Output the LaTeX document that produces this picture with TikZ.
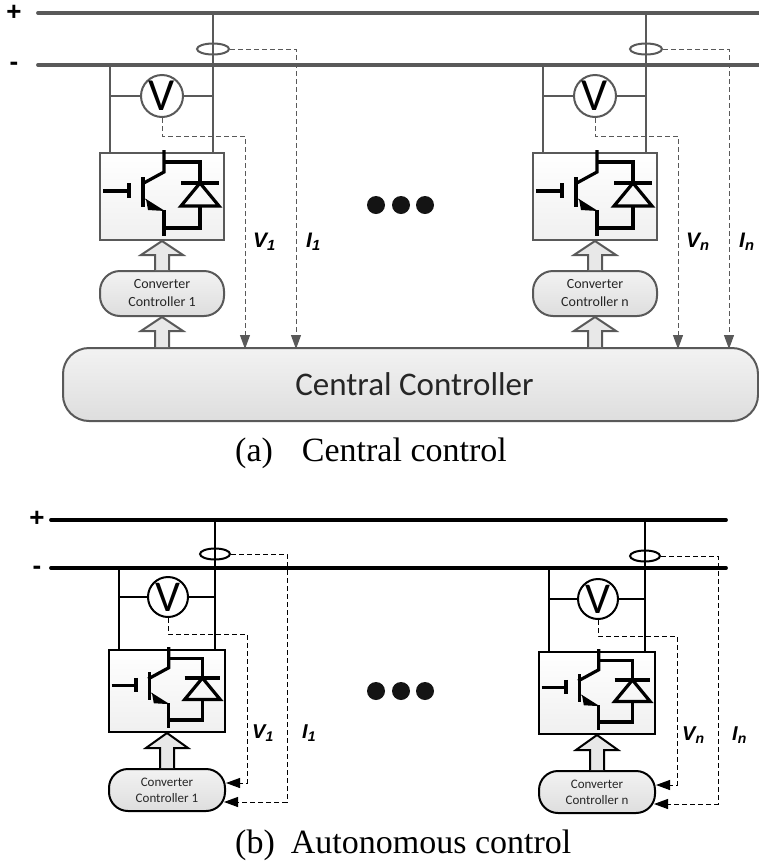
\documentclass[tikz,border=0pt]{standalone}
\usepackage{fontspec}
\setmainfont{Liberation Serif}
\newfontfamily\calfont{Carlito}
\newfontfamily\arifont{Liberation Sans}
\usepackage{xcolor}
\usetikzlibrary{arrows.meta,calc,shapes.geometric}
\definecolor{cA}{HTML}{595959}
\definecolor{cT}{HTML}{262626}
\tikzset{
  bus/.style={draw=wire,line width=3.8pt,line cap=round},
  stem/.style={draw=wire,line width=2.3pt},
  sense/.style={draw=wire,line width=1pt,dash pattern=on 5pt off 3pt,
    -{Triangle[length=14pt,width=10pt,fill=wire]}},
  ring/.style={ellipse,draw=wire,line width=2pt,minimum width=32pt,minimum height=11pt,inner sep=0},
  meter/.style={circle,draw=wire,line width=2pt,fill=white,inner sep=0,
    font=\calfont\fontsize{46}{46}\selectfont,text=black},
  cbox/.style={draw=wire,line width=2pt,top color=white,bottom color=black!6,inner sep=0},
  ctrl/.style={draw=wire,line width=2pt,top color=black!5,bottom color=black!13,
    inner sep=0,align=center,text=cT,font=\calfont\fontsize{14}{18}\selectfont},
  blockarr/.style={draw=wire,line width=2pt,fill=black!9,line join=miter},
  igbtln/.style={draw=black,line width=3.2pt},
  sig/.style={font=\arifont\bfseries\itshape\fontsize{21}{21}\selectfont,inner sep=0,anchor=west},
  sgn/.style={font=\arifont\bfseries\fontsize{26}{26}\selectfont,inner sep=0},
  captext/.style={font=\fontsize{34}{34}\selectfont,inner sep=0,anchor=base west},
  dotmark/.style={circle,fill=black!92,minimum size=18pt,inner sep=0},
}
\newcommand{\igbtsym}[2]{
  \begin{scope}[shift={(#1.north west)},scale=#2]
    \draw[igbtln] (65,-2) -- (65,20) -- (43,32);
    \draw[igbtln] (44,25) -- (44,55);
    \draw[igbtln] (30,31) -- (30,46);
    \draw[igbtln] (4,39) -- (30,39);
    \draw[black,line width=.5pt] (45,46) -- (50,50);
    \fill[black] (47,47) -- (49,58) -- (66,59) -- cycle;
    \draw[igbtln] (65,58) -- (65,84);
    \draw[igbtln] (65,10) -- (101,10) -- (101,31);
    \draw[igbtln] (82,31) -- (120,31);
    \draw[igbtln] (101,31) -- (82,54) -- (120,54) -- cycle;
    \draw[igbtln] (101,54) -- (101,76) -- (65,76);
  \end{scope}
}
\newcommand{\blockconn}[3]{
  \draw[blockarr] ([xshift=-7pt]#1) -- ([xshift=-7pt,yshift=-#3 pt]#2)
    -- ([xshift=-21pt,yshift=-#3 pt]#2) -- (#2) -- ([xshift=21pt,yshift=-#3 pt]#2)
    -- ([xshift=7pt,yshift=-#3 pt]#2) -- ([xshift=7pt]#1);
}
\begin{document}
\begin{tikzpicture}[x=1pt,y=-1pt]
  \useasboundingbox (0,0) rectangle (759,863);
  \colorlet{wire}{cA}
  \coordinate (pA) at (38,13);
  \coordinate (pB) at (759,13);
  \coordinate (mA) at (38,65);
  \coordinate (mB) at (759,65);
  \draw[bus] (pA) -- (pB);
  \draw[bus] (mA) -- (mB);
  \node[sgn] (plusA) at (14,13) {+};
  \node[sgn] (minusA) at (14,66) {-};
  \node[ctrl,minimum width=695pt,minimum height=73pt,rounded corners=26pt,
    font=\calfont\fontsize{33}{33}\selectfont] (cc) at (410.5,384.5) {\hspace*{8pt}Central Controller};
  \foreach \n/\dx in {1/0,n/433}{
    \node[cbox,minimum width=124pt,minimum height=87pt] (box\n) at (162+\dx,196.5) {};
    \node[ctrl,minimum width=124pt,minimum height=45pt,rounded corners=20pt] (conv\n) at (162+\dx,293.5)
      {Converter\\Controller \n};
    \node[meter,minimum size=42pt] (vm\n) at (162+\dx,96) {V};
    \node[ring] (ct\n) at (213+\dx,49) {};
    \coordinate (top\n) at (213+\dx,13);
    \coordinate (left\n) at (110+\dx,65);
    \coordinate (vend\n) at (245+\dx,349);
    \coordinate (iend\n) at (296+\dx,349);
    \draw[stem] (top\n) -- (top\n |- box\n.north);
    \draw[stem] (left\n) -- (left\n |- box\n.north);
    \draw[stem] (left\n |- vm\n.west) -- (vm\n.west);
    \draw[stem] (vm\n.east) -- (top\n |- vm\n.east);
    \draw[sense] (vm\n.south) -- ++(0,18) -| (vend\n);
    \draw[sense] (ct\n.east) -| (iend\n);
    \igbtsym{box\n}{1}
    \blockconn{conv\n.north}{box\n.south}{14}
    \blockconn{conv\n.south |- cc.north}{conv\n.south}{14}
    \node[sig] (vlab\n) at (253+\dx,242) {V\textsubscript{\n}};
    \node[sig] (ilab\n) at (306+\dx,242) {I\textsubscript{\n}};
  }
  \foreach \i/\x in {1/376,2/401,3/425}
    \node[dotmark] (dotA\i) at (\x,205) {};
  \node[captext] (capA) at (235,461) {(a)\hspace{29pt}Central control};

  \colorlet{wire}{black}
  \coordinate (qA) at (51,520);
  \coordinate (qB) at (726,520);
  \coordinate (nA) at (51,568);
  \coordinate (nB) at (726,568);
  \draw[bus] (qA) -- (qB);
  \draw[bus] (nA) -- (nB);
  \node[sgn] (plusB) at (37,519) {+};
  \node[sgn] (minusB) at (37,570) {-};
  \foreach \n/\dx/\dy in {1/0/0,n/430/2}{
    \node[cbox,minimum width=116pt,minimum height=82pt] (bbox\n) at (167+\dx,691+\dy) {};
    \node[ctrl,minimum width=116pt,minimum height=42pt,rounded corners=19pt,
      font=\calfont\fontsize{13}{16}\selectfont] (bconv\n) at (167+\dx,790+\dy)
      {Converter\\Controller \n};
    \node[meter,minimum size=40pt,font=\calfont\fontsize{44}{44}\selectfont] (bvm\n) at (168+\dx,597+\dy) {V};
    \node[ring,minimum width=30pt] (bct\n) at (215+\dx,554+\dy) {};
    \coordinate (btop\n) at (215+\dx,520);
    \coordinate (bleft\n) at (119+\dx,568);
    \coordinate (bvc\n) at (247+\dx,783+\dy);
    \coordinate (bic\n) at (287+\dx+\dy*0.5,802+\dy);
    \coordinate (bvt\n) at (226+\dx,783+\dy);
    \coordinate (bit\n) at (224+\dx,802+\dy);
    \draw[stem] (btop\n) -- (btop\n |- bbox\n.north);
    \draw[stem] (bleft\n) -- (bleft\n |- bbox\n.north);
    \draw[stem] (bleft\n |- bvm\n.west) -- (bvm\n.west);
    \draw[stem] (bvm\n.east) -- (btop\n |- bvm\n.east);
    \draw[sense] (bvm\n.south) -- ++(0,16) -| (bvc\n) -- (bvt\n);
    \draw[sense] (bct\n.east) -| (bic\n) -- (bit\n);
    \igbtsym{bbox\n}{.935}
    \blockconn{bconv\n.north}{bbox\n.south}{15}
    \node[sig,font=\arifont\bfseries\itshape\fontsize{20}{20}\selectfont] (bvlab\n) at (252+\dx,733+\dy) {V\textsubscript{\n}};
    \node[sig,font=\arifont\bfseries\itshape\fontsize{20}{20}\selectfont] (bilab\n) at (302+\dx,733+\dy) {I\textsubscript{\n}};
  }
  \foreach \i/\x in {1/376,2/401,3/425}
    \node[dotmark] (dotB\i) at (\x,691) {};
  \node[captext] (capB) at (235,853) {(b)\hspace{16pt}Autonomous control};
\end{tikzpicture}
\end{document}
